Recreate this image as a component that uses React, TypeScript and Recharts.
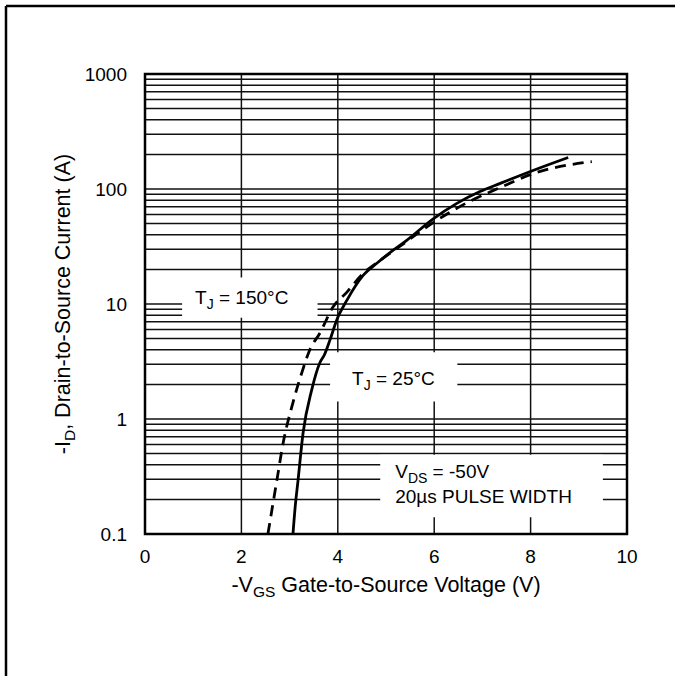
import React from 'react';
import { LineChart, Line, XAxis, YAxis, CartesianGrid, ReferenceArea } from 'recharts';

// -VGS (V) and -ID (A) for TJ = 25°C (solid)
const vgs25 = [3.07, 3.12, 3.17, 3.28, 3.46, 3.63, 3.72, 3.84, 3.98, 4.19, 4.53, 4.81, 5.15, 5.43, 5.98, 6.47, 6.95, 7.37, 8.05, 8.78];
const id25 = [0.1, 0.18, 0.28, 0.76, 1.8, 3.1, 3.6, 4.9, 7.3, 10.8, 17.8, 22.6, 29.4, 35.8, 55, 75, 95, 112, 145, 188];

// -VGS (V) and -ID (A) for TJ = 150°C (dashed)
const vgs150 = [2.55, 2.74, 2.87, 3.07, 3.25, 3.42, 3.63, 3.9, 4.19, 4.5, 4.88, 5.3, 5.98, 6.68, 7.37, 8.05, 9.27];
const id150 = [0.1, 0.3, 0.63, 1.39, 2.5, 4.0, 5.6, 9.4, 12.7, 18, 24, 32, 51, 76, 103, 136, 173];

const xTicks = [0, 2, 4, 6, 8, 10];
const yTicks = [0.1, 1, 10, 100, 1000];
const xGrid = [2, 4, 6, 8];
const yGrid = [
  0.2, 0.3, 0.4, 0.5, 0.6, 0.7, 0.8, 0.9,
  1, 2, 3, 4, 5, 6, 7, 8, 9,
  10, 20, 30, 40, 50, 60, 70, 80, 90,
  100, 200, 300, 400, 500, 600, 700, 800, 900,
];

const data25 = vgs25.map((v, k) => ({ v, i: id25[k] }));
const data150 = vgs150.map((v, k) => ({ v, i: id150[k] }));

const FONT = '"Liberation Sans", Arial, sans-serif';
const FS = 19;
const SUB = 14;
const TITLE = 21.5;
const TSUB = 15.5;

const hGen = (args: any) => {
  const { yAxis, offset } = args || {};
  if (yAxis && typeof yAxis.scale === 'function') {
    return yGrid.map((g) => yAxis.scale(g));
  }
  return yGrid.map((g) => offset.top + (offset.height * (3 - Math.log10(g))) / 4);
};

const vGen = (args: any) => {
  const { xAxis, offset } = args || {};
  if (xAxis && typeof xAxis.scale === 'function') {
    return xGrid.map((g) => xAxis.scale(g));
  }
  return xGrid.map((g) => offset.left + (offset.width * g) / 10);
};

const label150 = (props: any) => {
  const vb = props.viewBox || {};
  return (
    <text x={vb.x + 13} y={vb.y + 27} fontFamily={FONT} fontSize={FS} fill="#000">
      T<tspan fontSize={SUB} dy={5}>J</tspan>
      <tspan dy={-5}> = 150°C</tspan>
    </text>
  );
};

const label25 = (props: any) => {
  const vb = props.viewBox || {};
  return (
    <text x={vb.x + 22} y={vb.y + 33} fontFamily={FONT} fontSize={FS} fill="#000">
      T<tspan fontSize={SUB} dy={5}>J</tspan>
      <tspan dy={-5}> = 25°C</tspan>
    </text>
  );
};

const labelVds = (props: any) => {
  const vb = props.viewBox || {};
  return (
    <g>
      <text x={vb.x + 15} y={vb.y + 23} fontFamily={FONT} fontSize={FS} fill="#000">
        V<tspan fontSize={SUB} dy={5}>DS</tspan>
        <tspan dy={-5}> = -50V</tspan>
      </text>
      <text x={vb.x + 15} y={vb.y + 48} fontFamily={FONT} fontSize={FS} fill="#000">
        20µs PULSE WIDTH
      </text>
    </g>
  );
};

const yLabel = () => (
  <text
    x={70}
    y={304}
    transform="rotate(-90, 70, 304)"
    textAnchor="middle"
    fontFamily={FONT}
    fontSize={TITLE}
    fill="#000"
  >
    -I<tspan fontSize={TSUB} dy={5}>D</tspan>
    <tspan dy={-5}>, Drain-to-Source Current (A)</tspan>
  </text>
);

const xLabel = () => (
  <text x={386} y={592} textAnchor="middle" fontFamily={FONT} fontSize={TITLE} fill="#000">
    -V<tspan fontSize={TSUB} dy={5}>GS</tspan>
    <tspan dy={-5}> Gate-to-Source Voltage (V)</tspan>
  </text>
);

export default function App() {
  return (
    <div style={{ position: 'absolute', left: 0, top: 0, width: 675, height: 676, overflow: 'hidden', background: '#fff' }}>
      <svg width={675} height={676} style={{ position: 'absolute', left: 0, top: 0 }}>
        <line x1={6} y1={6} x2={675} y2={6} stroke="#000" strokeWidth={2.5} />
        <line x1={6} y1={6} x2={6} y2={676} stroke="#000" strokeWidth={2.5} />
      </svg>
      <div style={{ position: 'absolute', left: 0, top: 0 }}>
        <LineChart width={675} height={676} margin={{ top: 74, right: 48, bottom: 112, left: 85 }}>
          <CartesianGrid
            horizontalCoordinatesGenerator={hGen}
            verticalCoordinatesGenerator={vGen}
            stroke="#111"
            strokeWidth={1.5}
            strokeDasharray=""
            syncWithTicks={false}
          />
          <XAxis
            dataKey="v"
            type="number"
            domain={[0, 10]}
            ticks={xTicks}
            allowDataOverflow
            height={30}
            axisLine={false}
            tickLine={false}
            tickSize={0}
            tickMargin={16}
            tick={{ fontFamily: FONT, fontSize: FS, fill: '#000' }}
            label={{ content: xLabel }}
          />
          <YAxis
            dataKey="i"
            type="number"
            scale="log"
            domain={[0.1, 1000]}
            ticks={yTicks}
            allowDataOverflow
            width={60}
            axisLine={false}
            tickLine={false}
            tickSize={0}
            tickMargin={18}
            tick={{ fontFamily: FONT, fontSize: FS, fill: '#000' }}
            label={{ content: yLabel }}
          />
          <ReferenceArea x1={0.77} x2={3.58} y1={7.6} y2={17} fill="#fff" fillOpacity={1} stroke="none" label={label150} />
          <ReferenceArea x1={3.84} x2={6.48} y1={1.42} y2={3.8} fill="#fff" fillOpacity={1} stroke="none" label={label25} />
          <ReferenceArea x1={4.88} x2={9.5} y1={0.14} y2={0.49} fill="#fff" fillOpacity={1} stroke="none" label={labelVds} />
          <ReferenceArea x1={0} x2={10} y1={0.1} y2={1000} fill="none" stroke="#000" strokeWidth={2.5} />
          <Line
            data={data150}
            dataKey="i"
            type="monotone"
            stroke="#000"
            strokeWidth={2.8}
            strokeDasharray="11 7"
            dot={false}
            isAnimationActive={false}
          />
          <Line
            data={data25}
            dataKey="i"
            type="monotone"
            stroke="#000"
            strokeWidth={2.8}
            dot={false}
            isAnimationActive={false}
          />
        </LineChart>
      </div>
    </div>
  );
}
